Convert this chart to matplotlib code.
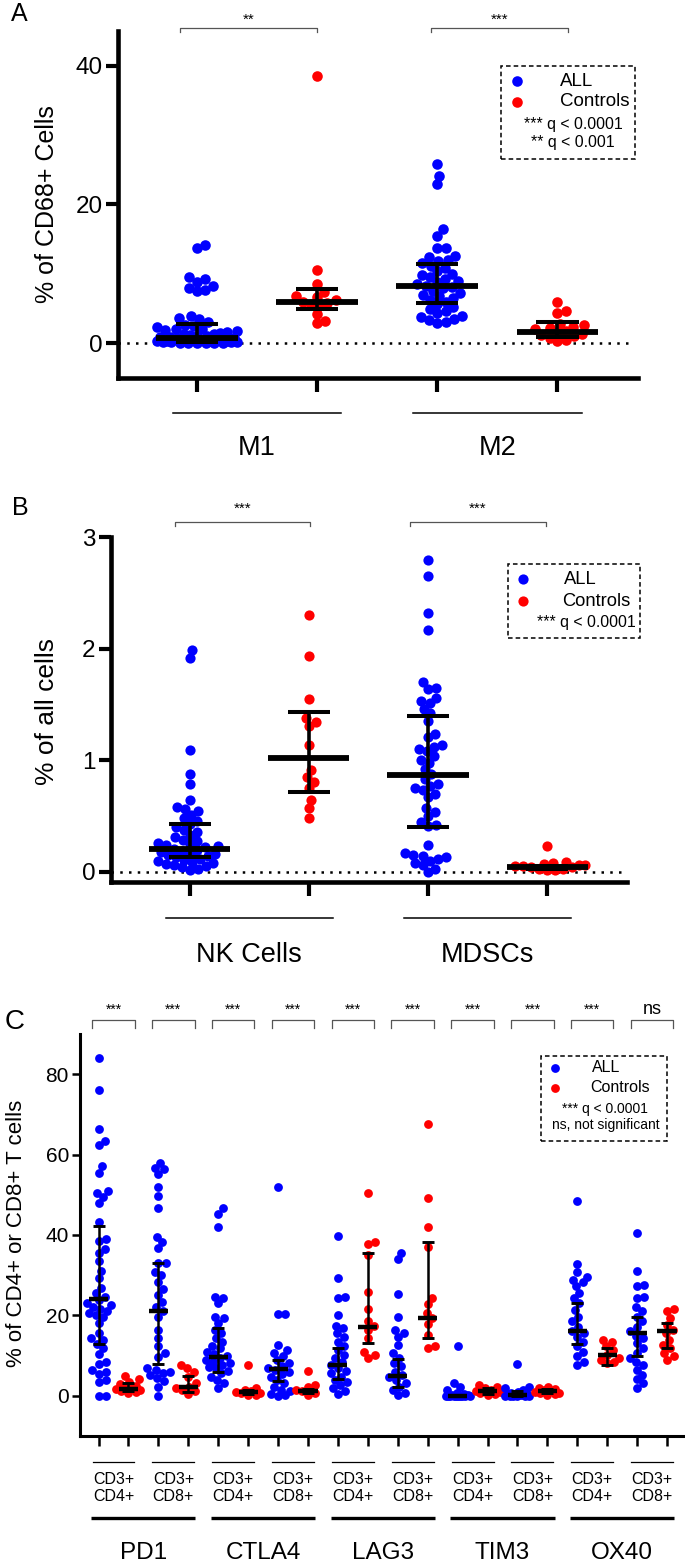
import numpy as np
import matplotlib

matplotlib.use("Agg")
import matplotlib.pyplot as plt
from matplotlib import transforms
from matplotlib.patches import Rectangle

W, H = 685, 1566
BLUE = "#0000ff"
RED = "#ff0000"

# ---------------- panel A: % of CD68+ cells ----------------
m1_all = [14.1, 13.7, 9.5, 9.3, 8.9, 8.3, 7.9, 7.7, 7.5, 4.0, 3.6, 3.5, 3.0, 2.7, 2.5,
          2.3, 2.1, 2.0, 1.9, 1.8, 1.6, 1.5, 1.4, 1.3, 1.2, 1.1, 1.0, 0.9, 0.85, 0.8,
          0.75, 0.7, 0.6, 0.55, 0.5, 0.45, 0.4, 0.35, 0.3, 0.3, 0.25, 0.2, 0.2, 0.15,
          0.1, 0.1, 0.05, 0.05, 0.0, 0.0]
m1_ctrl = [38.5, 10.6, 8.6, 7.4, 6.8, 6.6, 6.2, 6.0, 5.8, 5.6, 5.4, 4.2, 3.2, 2.9]
m2_all = [25.9, 24.1, 22.9, 16.4, 15.5, 13.8, 13.7, 12.6, 12.4, 12.0, 11.8, 11.5, 11.2,
          10.8, 10.4, 10.0, 9.8, 9.5, 9.2, 9.0, 8.8, 8.5, 8.3, 8.1, 7.9, 7.6, 7.3, 7.0,
          6.8, 6.5, 6.2, 5.9, 5.6, 5.2, 4.9, 4.6, 4.3, 4.0, 3.8, 3.5, 3.3, 3.1, 2.9]
m2_ctrl = [6.0, 4.7, 4.3, 2.8, 2.6, 2.4, 2.2, 2.0, 1.8, 1.6, 1.4, 1.2, 1.0, 0.8, 0.5, 0.3]
a_median = [0.8, 5.9, 8.3, 1.6]
a_q1 = [0.2, 5.0, 5.8, 0.9]
a_q3 = [2.8, 7.8, 11.4, 3.0]
a_groups = ["M1", "M2"]
a_sig = ["**", "***"]

# ---------------- panel B: % of all cells ----------------
nk_all = [1.99, 1.92, 1.09, 0.88, 0.79, 0.64, 0.58, 0.56, 0.55, 0.51, 0.48, 0.46, 0.43,
          0.40, 0.38, 0.36, 0.33, 0.31, 0.29, 0.28, 0.26, 0.25, 0.24, 0.23, 0.22, 0.21,
          0.20, 0.19, 0.18, 0.17, 0.16, 0.15, 0.14, 0.13, 0.12, 0.11, 0.10, 0.09, 0.08,
          0.07, 0.06, 0.05, 0.04, 0.03, 0.02]
nk_ctrl = [2.30, 1.93, 1.55, 1.38, 1.34, 1.31, 1.14, 0.91, 0.85, 0.81, 0.75, 0.64, 0.57, 0.48]
mdsc_all = [2.79, 2.65, 2.32, 2.17, 1.70, 1.65, 1.64, 1.56, 1.53, 1.51, 1.46, 1.42, 1.35,
            1.24, 1.21, 1.14, 1.12, 1.10, 1.08, 1.04, 1.00, 0.98, 0.92, 0.88, 0.83, 0.79,
            0.77, 0.75, 0.73, 0.70, 0.67, 0.57, 0.54, 0.50, 0.45, 0.42, 0.41, 0.24, 0.17,
            0.15, 0.14, 0.13, 0.12, 0.10, 0.08, 0.06, 0.03, 0.0]
mdsc_ctrl = [0.23, 0.09, 0.08, 0.07, 0.06, 0.06, 0.05, 0.05, 0.04, 0.04, 0.03, 0.03, 0.02, 0.02]
b_median = [0.21, 1.02, 0.865, 0.04]
b_q1 = [0.135, 0.72, 0.405, 0.03]
b_q3 = [0.43, 1.43, 1.40, 0.055]
b_groups = ["NK Cells", "MDSCs"]
b_sig = ["***", "***"]

# ---------------- panel C: % of CD4+ or CD8+ T cells ----------------
pd1_cd4_all = [84.0, 76.0, 66.3, 63.3, 62.3, 57.1, 55.5, 50.9, 50.5, 49.5, 48.0, 43.3, 39.0,
               38.5, 36.5, 35.5, 33.5, 31.0, 29.3, 26.8, 25.5, 24.5, 23.8, 23.0, 22.5, 22.0,
               21.5, 21.0, 20.5, 20.0, 19.5, 18.0, 15.5, 14.3, 14.0, 13.0, 12.0, 10.5, 8.5,
               8.0, 6.5, 6.0, 5.5, 4.0, 3.5, 0.0, 0.0]
pd1_cd4_ctrl = [5.0, 4.2, 3.5, 3.0, 2.5, 2.2, 2.0, 1.8, 1.5, 1.2, 1.0, 0.7]
pd1_cd8_all = [58.0, 56.7, 56.3, 55.1, 52.0, 49.8, 46.6, 39.6, 38.3, 36.7, 33.1, 33.0, 30.9,
               30.1, 28.4, 26.5, 25.1, 23.4, 22.2, 21.2, 19.7, 16.4, 14.3, 12.3, 10.6, 9.6,
               6.9, 6.5, 6.0, 5.6, 5.2, 4.4, 3.6, 2.3, 0.0]
pd1_cd8_ctrl = [7.7, 6.9, 6.0, 4.8, 3.1, 2.3, 1.9, 1.5, 1.1, 0.5]
ctla4_cd4_all = [46.6, 45.2, 41.9, 24.7, 24.3, 23.0, 19.7, 19.3, 18.1, 16.4, 15.5, 14.3, 13.5,
                 12.3, 11.8, 11.0, 10.5, 9.8, 9.4, 9.0, 8.5, 8.1, 7.7, 7.2, 6.9, 6.2, 5.6,
                 4.8, 4.0, 3.1, 1.9]
ctla4_cd4_ctrl = [7.7, 1.9, 1.5, 1.2, 1.0, 0.8, 0.6, 0.3, 0.2]
ctla4_cd8_all = [52.0, 20.3, 20.3, 12.7, 11.4, 10.6, 9.8, 8.9, 8.1, 7.5, 6.9, 6.5, 6.0, 5.5,
                 4.8, 4.0, 3.2, 2.3, 1.5, 1.1, 0.5, 0.2, 0.0]
ctla4_cd8_ctrl = [6.2, 2.7, 2.3, 1.5, 1.2, 0.7, 0.2]
lag3_cd4_all = [39.8, 29.2, 24.7, 24.3, 20.1, 17.4, 16.8, 15.6, 14.7, 13.5, 12.3, 11.4, 10.2,
                9.4, 8.5, 7.7, 6.9, 6.2, 5.6, 4.8, 4.0, 3.4, 2.7, 1.9, 1.1, 0.5]
lag3_cd4_ctrl = [50.4, 38.3, 37.8, 35.0, 25.9, 21.5, 18.5, 17.4, 16.4, 14.3, 11.0, 10.2, 9.4]
lag3_cd8_all = [35.6, 34.0, 25.3, 19.7, 16.4, 15.6, 14.7, 12.7, 10.6, 9.4, 8.1, 7.3, 6.0, 5.2,
                4.6, 4.0, 3.1, 2.3, 1.5, 0.7, 0.2]
lag3_cd8_ctrl = [67.5, 49.1, 41.9, 37.1, 24.3, 22.8, 20.7, 19.3, 17.8, 15.2, 12.4, 11.8]
tim3_cd4_all = [12.4, 3.1, 2.3, 1.5, 0.7, 0.4, 0.2, 0.1, 0.0, 0.0, 0.0, 0.0, 0.0, 0.0, 0.0,
                0.0, 0.0, 0.0]
tim3_cd4_ctrl = [2.7, 2.3, 1.9, 1.5, 1.1, 0.9, 0.7, 0.5, 0.3]
tim3_cd8_all = [8.0, 2.3, 1.9, 1.5, 1.0, 0.8, 0.5, 0.3, 0.2, 0.1, 0.0, 0.0, 0.0, 0.0, 0.0, 0.0]
tim3_cd8_ctrl = [2.3, 2.0, 1.7, 1.4, 1.2, 1.0, 0.8, 0.6, 0.4, 0.2]
ox40_cd4_all = [48.4, 32.8, 30.9, 29.6, 28.8, 28.2, 27.2, 25.5, 24.3, 23.0, 21.4, 19.7, 18.5,
                17.2, 16.0, 15.5, 14.7, 13.5, 12.3, 11.0, 9.8, 8.5, 7.7]
ox40_cd4_ctrl = [13.9, 13.5, 12.3, 11.4, 10.2, 9.4, 8.9, 8.5, 8.1]
ox40_cd8_all = [40.6, 31.1, 27.6, 27.2, 24.7, 24.3, 22.2, 21.0, 19.7, 18.5, 17.2, 16.0, 15.0,
                14.3, 13.1, 11.8, 10.6, 9.4, 8.5, 7.7, 6.5, 5.2, 4.1, 3.1, 1.9]
ox40_cd8_ctrl = [21.5, 21.2, 19.3, 17.6, 16.4, 15.6, 13.9, 12.7, 11.8, 10.6, 9.8, 8.9]
c_median = [24.0, 1.8, 21.2, 2.2, 9.6, 1.0, 6.6, 1.3, 7.6, 17.2, 5.0, 19.4, 0.0, 1.1, 0.3, 1.1,
            16.1, 10.1, 15.7, 16.1]
c_q1 = [12.8, 1.2, 7.9, 1.0, 5.9, 0.5, 3.8, 0.6, 4.2, 13.1, 2.2, 14.4, 0.0, 0.5, 0.0, 0.6,
        12.9, 7.7, 9.9, 11.8]
c_q3 = [42.3, 3.1, 33.0, 5.0, 16.8, 1.4, 8.9, 1.8, 11.8, 35.6, 9.1, 38.2, 0.3, 1.9, 1.3, 1.6,
        23.2, 11.8, 19.5, 18.2]
c_markers = ["PD1", "CTLA4", "LAG3", "TIM3", "OX40"]
c_subsets = ["CD3+\nCD4+", "CD3+\nCD8+"]
c_sig = ["***"] * 9 + ["ns"]

plt.rcParams["font.family"] = ["Liberation Sans", "DejaVu Sans"]


def rect(left, top, right, bottom):
    return [left / W, 1 - bottom / H, (right - left) / W, (bottom - top) / H]


def fx(px):
    return px / W


def fy(py):
    return 1 - py / H


def swarm(ax, xpos, values, diam, maxw):
    # beeswarm offsets in pixels, then back to data units
    pts = ax.transData.transform([(xpos, v) for v in values])
    x0 = pts[0, 0]
    ys = pts[:, 1]
    offs = np.zeros(len(values))
    placed = []
    for i in np.argsort(ys, kind="stable"):
        y = ys[i]
        near = [(px_, py_) for px_, py_ in placed if abs(y - py_) < diam]
        cands = [0.0]
        for px_, py_ in near:
            dx = np.sqrt(diam ** 2 - (y - py_) ** 2)
            cands += [px_ + dx, px_ - dx]
        cands = sorted(cands, key=abs)
        best = None
        for c in cands:
            if abs(c) > maxw + 1e-9:
                continue
            if all((c - px_) ** 2 + (y - py_) ** 2 >= diam ** 2 - 1e-6 for px_, py_ in near):
                best = c
                break
        if best is None:
            grid = np.linspace(-maxw, maxw, 25)
            score = [min((g - px_) ** 2 + (y - py_) ** 2 for px_, py_ in near) - 0.01 * abs(g)
                     for g in grid]
            best = grid[int(np.argmax(score))]
        offs[i] = best
        placed.append((best, y))
    return ax.transData.inverted().transform(np.column_stack([x0 + offs, ys]))[:, 0]


def dot_columns(ax, columns, colors, med, lo, hi, size, diam, maxw, med_half, cap_half,
                med_lw, bar_lw):
    for i, vals in enumerate(columns):
        xs = swarm(ax, i, vals, diam, maxw)
        ax.scatter(xs, vals, s=size, color=colors[i], linewidths=0, zorder=3)
    pos = np.arange(len(columns))
    ax.hlines(med, pos - med_half, pos + med_half, color="black", lw=med_lw, zorder=4)
    ax.vlines(pos, lo, hi, color="black", lw=bar_lw, zorder=4)
    ax.hlines(lo, pos - cap_half, pos + cap_half, color="black", lw=bar_lw + 0.3, zorder=4)
    ax.hlines(hi, pos - cap_half, pos + cap_half, color="black", lw=bar_lw + 0.3, zorder=4)


def style_axis(ax, spine_lw, tick_len, tick_w, label_size):
    for side in ("top", "right"):
        ax.spines[side].set_visible(False)
    for side in ("left", "bottom"):
        ax.spines[side].set_linewidth(spine_lw)
    ax.tick_params(axis="y", length=tick_len, width=tick_w, labelsize=label_size, pad=2)
    ax.tick_params(axis="x", length=tick_len + 1, width=tick_w, labelbottom=False)


def legend_box(fig, box, dot_x, rows_xy, size, text_rows):
    left, top, right, bottom = box
    fig.patches.append(Rectangle((fx(left), fy(bottom)), (right - left) / W, (bottom - top) / H,
                                 transform=fig.transFigure, fill=False, ec="black", lw=1.1,
                                 ls=(0, (3, 2))))
    for (txt_x, y, label, color) in rows_xy:
        fig.add_artist(plt.Line2D([fx(dot_x)], [fy(y)], marker="o", ms=np.sqrt(size),
                                  color=color, mew=0, ls="none", transform=fig.transFigure))
        fig.text(fx(txt_x), fy(y), label, ha="left", va="center", fontsize=text_rows[0])
    for (cx, y, label) in text_rows[2]:
        fig.text(fx(cx), fy(y), label, ha="center", va="center", fontsize=text_rows[1])


def brackets(fig, ax, spans, labels, top_py, bot_py, label_py, fontsize):
    tr = transforms.blended_transform_factory(ax.transData, fig.transFigure)
    for (x0, x1), lab in zip(spans, labels):
        ax.plot([x0, x0, x1, x1], [fy(bot_py), fy(top_py), fy(top_py), fy(bot_py)],
                color="#555555", lw=0.9, transform=tr, clip_on=False)
        fs = fontsize + 3 if lab == "ns" else fontsize
        ax.text((x0 + x1) / 2, fy(label_py), lab, ha="center", va="baseline", fontsize=fs,
                transform=tr)


fig = plt.figure(figsize=(W / 100, H / 100), dpi=100)

# ======== panel A ========
ax_a = fig.add_axes(rect(118, 31, 638, 378))
ax_a.set_xlim(-0.657, 3.67)
ax_a.set_ylim(-5, 45)
ax_a.set_yticks([0, 20, 40])
ax_a.set_xticks(range(4))
style_axis(ax_a, 3.3, 9, 3.0, 17.5)
ax_a.plot([-0.657, 3.64], [0, 0], color="black", lw=1.8, ls=(0, (1.0, 2.5)), zorder=1)
dot_columns(ax_a, [m1_all, m1_ctrl, m2_all, m2_ctrl], [BLUE, RED, BLUE, RED],
            a_median, a_q1, a_q3, 58, 8.6, 40, 0.34, 0.175, 4.2, 2.6)
fig.text(fx(47.5), fy(204), "% of CD68+ Cells", rotation=90, ha="center", va="center",
         fontsize=18)
tr_a = transforms.blended_transform_factory(ax_a.transData, fig.transFigure)
for k, name in enumerate(a_groups):
    c = 2 * k + 0.5
    ax_a.plot([c - 0.7, c + 0.7], [fy(413), fy(413)], color="black", lw=1.1, transform=tr_a,
              clip_on=False)
    ax_a.text(c, fy(448), name, ha="center", va="center", fontsize=19.5, transform=tr_a)
brackets(fig, ax_a, [(-0.138, 1.0), (1.95, 3.09)], a_sig, 28, 32, 24, 11)
fig.text(fx(19), fy(14), "A", ha="center", va="center", fontsize=18)
legend_box(fig, (501, 66, 635, 159), 517, [(560, 81, "ALL", BLUE), (560, 102, "Controls", RED)],
           58, (13.5, 11.4, [(573, 124, "*** q < 0.0001"), (573, 143, "** q < 0.001")]))

# ======== panel B ========
ax_b = fig.add_axes(rect(111, 537, 627, 882))
ax_b.set_xlim(-0.66, 3.67)
ax_b.set_ylim(-0.09, 3.0)
ax_b.set_yticks([0, 1, 2, 3])
ax_b.set_xticks(range(4))
style_axis(ax_b, 3.3, 9, 3.0, 17.5)
ax_b.plot([-0.66, 3.64], [0, 0], color="black", lw=1.8, ls=(0, (1.0, 2.5)), zorder=1)
dot_columns(ax_b, [nk_all, nk_ctrl, mdsc_all, mdsc_ctrl], [BLUE, RED, BLUE, RED],
            b_median, b_q1, b_q3, 54, 8.2, 38, 0.34, 0.175, 4.2, 2.6)
fig.text(fx(47), fy(711), "% of all cells", rotation=90, ha="center", va="center", fontsize=19)
tr_b = transforms.blended_transform_factory(ax_b.transData, fig.transFigure)
for k, name in enumerate(b_groups):
    c = 2 * k + 0.5
    ax_b.plot([c - 0.7, c + 0.7], [fy(918), fy(918)], color="black", lw=1.1, transform=tr_b,
              clip_on=False)
    ax_b.text(c, fy(955), name, ha="center", va="center", fontsize=19.5, transform=tr_b)
brackets(fig, ax_b, [(-0.125, 1.01), (1.85, 2.99)], b_sig, 522, 526, 513, 11)
fig.text(fx(20), fy(508), "B", ha="center", va="center", fontsize=18)
legend_box(fig, (508, 564, 640, 638), 523, [(564, 579, "ALL", BLUE), (562, 601, "Controls", RED)],
           54, (13.2, 11.4, [(586, 622, "*** q < 0.0001")]))

# ======== panel C ========
c_columns = [pd1_cd4_all, pd1_cd4_ctrl, pd1_cd8_all, pd1_cd8_ctrl,
             ctla4_cd4_all, ctla4_cd4_ctrl, ctla4_cd8_all, ctla4_cd8_ctrl,
             lag3_cd4_all, lag3_cd4_ctrl, lag3_cd8_all, lag3_cd8_ctrl,
             tim3_cd4_all, tim3_cd4_ctrl, tim3_cd8_all, tim3_cd8_ctrl,
             ox40_cd4_all, ox40_cd4_ctrl, ox40_cd8_all, ox40_cd8_ctrl]
ax_c = fig.add_axes(rect(80, 1034, 685, 1436))
ax_c.set_xlim(-0.62, 19.6)
ax_c.set_ylim(-10, 90)
ax_c.set_yticks([0, 20, 40, 60, 80])
ax_c.set_xticks(range(20))
style_axis(ax_c, 2.2, 6, 1.8, 15)
dot_columns(ax_c, c_columns, [BLUE, RED] * 10, c_median, c_q1, c_q3, 40, 7.4, 12,
            0.32, 0.2, 3.2, 1.8)
fig.text(fx(17), fy(1233), "% of CD4+ or CD8+ T cells", rotation=90, ha="center", va="center",
         fontsize=16)
tr_c = transforms.blended_transform_factory(ax_c.transData, fig.transFigure)
for k in range(10):
    c = 2 * k + 0.5
    ax_c.plot([c - 0.7, c + 0.7], [fy(1462), fy(1462)], color="black", lw=0.9, transform=tr_c,
              clip_on=False)
    ax_c.text(c, fy(1488), c_subsets[k % 2], ha="center", va="center", fontsize=11.5,
              linespacing=1.15, transform=tr_c)
for k, name in enumerate(c_markers):
    c = 4 * k + 1.5
    ax_c.plot([c - 1.74, c + 1.74], [fy(1518), fy(1518)], color="black", lw=2.4,
              transform=tr_c, clip_on=False, solid_capstyle="butt")
    ax_c.text(c, fy(1553), name, ha="center", va="center", fontsize=17.5, transform=tr_c)
brackets(fig, ax_c, [(2 * k + 0.5 - 0.71, 2 * k + 0.5 + 0.71) for k in range(10)], c_sig,
         1020, 1028, 1014, 10)
fig.text(fx(15), fy(1022), "C", ha="center", va="center", fontsize=20)
legend_box(fig, (541, 1056, 667, 1141), 555,
           [(592, 1068, "ALL", BLUE), (590, 1088, "Controls", RED)],
           40, (11.5, 10, [(605, 1109, "*** q < 0.0001"), (606, 1125, "ns, not significant")]))

fig.savefig("out.png", dpi=100)
plt.close(fig)
